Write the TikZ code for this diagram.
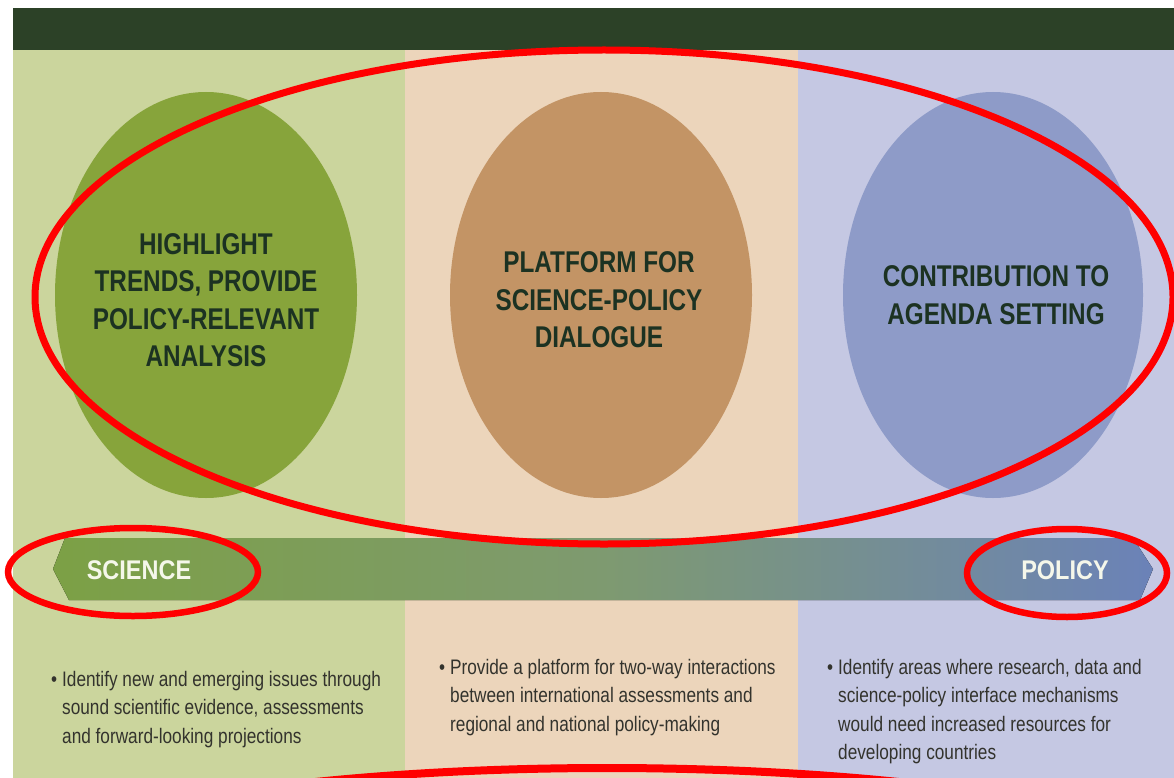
\documentclass[tikz,border=0pt]{standalone}
\usepackage{fontspec}
\setmainfont{Liberation Sans}
\newfontfamily\headfont[FakeStretch=0.81]{Liberation Sans}
\newfontfamily\tagfont[FakeStretch=0.87]{Liberation Sans}
\newfontfamily\bodyfont[FakeStretch=0.82]{Liberation Sans}
\usetikzlibrary{shapes.geometric}

\definecolor{bandtop}{HTML}{2C4127}
\definecolor{sciencebg}{HTML}{CBD59D}
\definecolor{dialoguebg}{HTML}{ECD5BB}
\definecolor{policybg}{HTML}{C5C8E3}
\definecolor{scienceoval}{HTML}{87A43B}
\definecolor{dialogueoval}{HTML}{C39465}
\definecolor{policyoval}{HTML}{8E9BC8}
\definecolor{ovaltext}{HTML}{1C3222}
\definecolor{arrowleft}{HTML}{7CA045}
\definecolor{arrowmid}{HTML}{7E9A70}
\definecolor{arrowright}{HTML}{6B82B8}
\definecolor{tagtext}{HTML}{F5F7EA}
\definecolor{bodytext}{HTML}{33332D}
\definecolor{markred}{HTML}{FF0000}

\tikzset{
  oval/.style={ellipse, draw=none, inner sep=0pt,
    minimum width=302pt, minimum height=406pt},
  ovallabel/.style={align=center, inner sep=0pt, text=ovaltext,
    font=\headfont\bfseries\fontsize{30}{37.5}\selectfont},
  taglabel/.style={inner sep=0pt, text=tagtext,
    font=\tagfont\bfseries\fontsize{27}{30}\selectfont},
  bullettext/.style={anchor=north west, align=left, inner sep=0pt,
    text=bodytext, font=\bodyfont\fontsize{21}{28.5}\selectfont},
  redmark/.style={draw=markred, line width=7pt},
}

\newcommand{\bul}{\makebox[11pt][l]{\textbullet}}
\newcommand{\ind}{\hspace*{11pt}}

\begin{document}
\begin{tikzpicture}[x=1pt, y=-1pt]
  \useasboundingbox (0,0) rectangle (1174,778);
  \clip (0,0) rectangle (1174,778);
  \fill[white] (0,0) rectangle (1174,778);

  % header strip and the three column backgrounds
  \fill[bandtop] (13,8) rectangle (1174,50);
  \fill[sciencebg] (13,50) rectangle (405,778);
  \fill[dialoguebg] (405,50) rectangle (798,778);
  \fill[policybg] (798,50) rectangle (1174,778);

  % the three role ovals
  \node[oval, fill=scienceoval] (ovalA) at (206,295) {};
  \node[oval, fill=dialogueoval] (ovalB) at (601,295) {};
  \node[oval, fill=policyoval, minimum width=300pt] (ovalC) at (993,295) {};

  \node[ovallabel] (roleA) at (206,300) {HIGHLIGHT\\TRENDS, PROVIDE\\POLICY-RELEVANT\\ANALYSIS};
  \node[ovallabel] (roleB) at (599,300) {PLATFORM FOR\\SCIENCE-POLICY\\DIALOGUE};
  \node[ovallabel] (roleC) at (996,295) {CONTRIBUTION TO\\AGENDA SETTING};

  % science-to-policy band, pointed at both ends
  \fill[left color=arrowleft, right color=arrowright, middle color=arrowmid]
    (53,569) -- (65,538) -- (1133,538) -- (1153,569) -- (1140,600) -- (69,600) -- cycle;
  \node[taglabel] (science) at (139,570) {SCIENCE};
  \node[taglabel] (policy) at (1065,570) {POLICY};

  % bullet texts under each column
  \node[bullettext] (textA) at (51,671)
    {\bul Identify new and emerging issues through\\
     \ind sound scientific evidence, assessments\\
     \ind and forward-looking projections};
  \node[bullettext] (textB) at (439,659)
    {\bul Provide a platform for two-way interactions\\
     \ind between international assessments and\\
     \ind regional and national policy-making};
  \node[bullettext] (textC) at (827,659)
    {\bul Identify areas where research, data and\\
     \ind science-policy interface mechanisms\\
     \ind would need increased resources for\\
     \ind developing countries};

  % red highlight rings
  \draw[redmark] (604,297) ellipse [x radius=569, y radius=247];
  \draw[redmark, line width=6.5pt] (133,572) ellipse [x radius=125, y radius=44];
  \draw[redmark, line width=6.5pt] (1067,573) ellipse [x radius=100, y radius=44];
  \draw[redmark, line width=8pt] (607,900) ellipse [x radius=650, y radius=132];
\end{tikzpicture}
\end{document}
